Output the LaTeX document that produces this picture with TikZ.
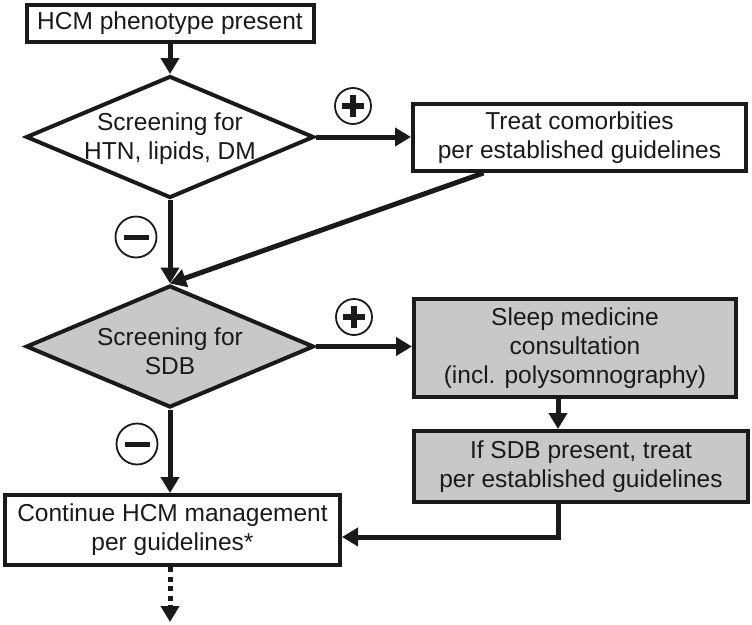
\documentclass[tikz,border=0pt]{standalone}
\usepackage{fontspec}
\setmainfont{Liberation Sans}
\usetikzlibrary{arrows.meta,shapes.geometric,calc}
\definecolor{sdbgray}{HTML}{C8C8C8}
\definecolor{ink}{HTML}{1A1A1A}
\begin{document}
\begin{tikzpicture}[x=1pt,y=-1pt,
  box/.style={draw=ink,line width=4pt,inner sep=0pt,align=center,text=ink,
    font=\fontsize{24.5}{29}\selectfont},
  gbox/.style={box,fill=sdbgray},
  dia/.style={draw=ink,diamond,line width=4pt,inner sep=0pt,
    minimum width=288pt,minimum height=122pt},
  txt/.style={align=center,inner sep=0pt,text=ink,font=\fontsize{24.5}{29}\selectfont},
  conn/.style={draw=ink,line width=5pt,-{Triangle[length=16pt,width=18pt]}},
  sign/.style={circle,draw=ink,line width=1.8pt,inner sep=0pt},
  bar/.style={draw=ink,line width=5.5pt}
]
\useasboundingbox (0,0) rectangle (752,624);

% nodes
\node[box,minimum width=287pt,minimum height=37pt] (start) at (170,23.5) {HCM phenotype present};
\node[dia] (d1) at (170,137) {};
\node[txt] (d1t) at (170,139) {Screening for\\HTN, lipids, DM};
\node[box,minimum width=333pt,minimum height=67pt] (treat) at (579.5,137.5) {Treat comorbities\\per established guidelines};
\node[dia,fill=sdbgray] (d2) at (170,346.5) {};
\node[txt] (d2t) at (170,351) {Screening for\\SDB};
\node[gbox,minimum width=322pt,minimum height=98pt] (sleep) at (575,348) {Sleep medicine\\consultation\\(incl. polysomnography)};
\node[gbox,minimum width=334pt,minimum height=71pt] (ifb) at (581,466.5) {If SDB present, treat\\per established guidelines};
\node[box,minimum width=335pt,minimum height=70pt] (cont) at (172.5,530) {Continue HCM management\\per guidelines*};
\coordinate (down) at (170,622);

% plus / minus markers
\node[sign,minimum size=36pt] (p1) at (353,106) {};
\draw[bar] ([xshift=-11pt]p1.center) -- ([xshift=11pt]p1.center);
\draw[bar] ([yshift=-11pt]p1.center) -- ([yshift=11pt]p1.center);
\node[sign,minimum size=36pt] (p2) at (354,317) {};
\draw[bar] ([xshift=-11pt]p2.center) -- ([xshift=11pt]p2.center);
\draw[bar] ([yshift=-11pt]p2.center) -- ([yshift=11pt]p2.center);
\node[sign,minimum size=41pt] (m1) at (136,237) {};
\draw[bar,line width=5pt] ([xshift=-12.5pt]m1.center) -- ([xshift=12.5pt]m1.center);
\node[sign,minimum size=41pt] (m2) at (137,444) {};
\draw[bar,line width=5pt] ([xshift=-12.5pt]m2.center) -- ([xshift=12.5pt]m2.center);

% connectors
\draw[conn] (start.south -| d1.north) -- (d1.north);
\draw[conn] (d1.east) -- (d1.east -| treat.west);
\draw[conn] (d1.south) -- (d2.north);
\draw[conn] ([xshift=-96pt]treat.south) -- (d2.north);
\draw[conn] (d2.east) -- (d2.east -| sleep.west);
\draw[conn] ([xshift=-17pt]sleep.south) -- ([xshift=-17pt]sleep.south |- ifb.north);
\draw[conn] ([xshift=-23pt]ifb.south) |- ([yshift=-7pt]cont.east);
\draw[conn] (d2.south) -- (d2.south |- cont.north);
\draw[conn,dash pattern=on 5pt off 4.5pt] (cont.south -| down) -- (down);
\end{tikzpicture}
\end{document}
